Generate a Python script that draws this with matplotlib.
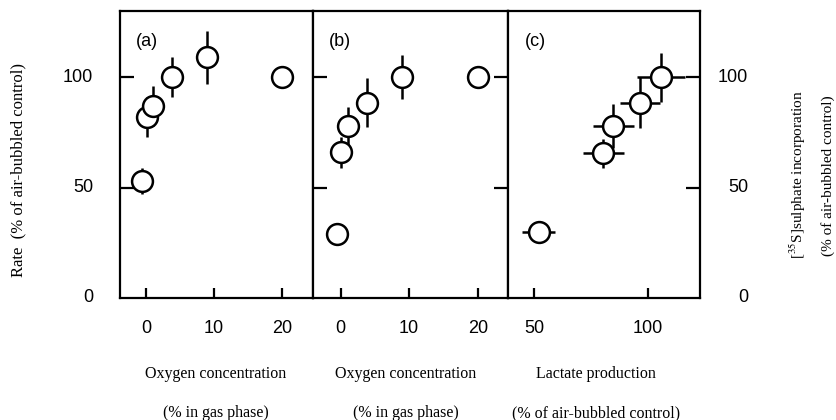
import matplotlib
matplotlib.use("Agg")
import matplotlib.pyplot as plt

# ---- data ----
a_x = [-0.5, 0.1, 1.1, 3.9, 9.0, 20.0]
a_y = [53, 82, 87, 100, 109, 100]
a_yerr = [6, 9, 9, 9, 12, 0]

b_x = [-0.5, 0.0, 1.1, 3.9, 8.9, 20.0]
b_y = [29, 66, 78, 88.5, 100, 100]
b_yerr = [0, 7, 8.5, 11, 10, 0]

c_x = [52, 80.4, 84.8, 96.5, 105.7]
c_y = [30, 65.5, 78, 88.5, 100]
c_xerr = [7.3, 9, 8.9, 8.6, 10.7]
c_yerr = [0, 6.5, 10, 11.5, 11]

oxy_ticks = [0, 10, 20]
lact_ticks = [50, 100]
y_ticks = [0, 50, 100]

plt.rcParams['mathtext.fontset'] = 'stix'
sans = 'Liberation Sans'
serif = 'Liberation Serif'

fig = plt.figure(figsize=(8.37, 4.2), dpi=100)
bottom, height = 0.2905, 0.6833
ax1 = fig.add_axes([0.1434, bottom, 0.2306, height])
ax2 = fig.add_axes([0.3740, bottom, 0.2330, height])
ax3 = fig.add_axes([0.6070, bottom, 0.2294, height])


def draw_points(ax, x, y, xerr=None, yerr=None):
    ax.errorbar(x, y, xerr=xerr, yerr=yerr, fmt='none', ecolor='black',
                elinewidth=1.8, capsize=0, zorder=2)
    ax.plot(x, y, 'o', ms=15, mfc='white', mec='black', mew=1.8,
            ls='none', zorder=3)


draw_points(ax1, a_x, a_y, yerr=a_yerr)
draw_points(ax2, b_x, b_y, yerr=b_yerr)
draw_points(ax3, c_x, c_y, xerr=c_xerr, yerr=c_yerr)

ax1.set_xlim(-3.8, 24.6)
ax2.set_xlim(-4.0, 24.4)
ax3.set_xlim(38.6, 122.8)

ax1.set_xticks(oxy_ticks)
ax2.set_xticks(oxy_ticks)
ax3.set_xticks(lact_ticks)

for ax, lab in [(ax1, '(a)'), (ax2, '(b)'), (ax3, '(c)')]:
    ax.set_ylim(0, 130)
    for s in ax.spines.values():
        s.set_linewidth(1.6)
    ax.tick_params(axis='x', direction='in', length=7, width=1.6,
                   pad=16, labelsize=13)
    for t in ax.get_xticklabels():
        t.set_family(sans)
    ax.text(0.14, 0.895, lab, transform=ax.transAxes, fontsize=13,
            family=sans, ha='center', va='center')

# y ticks: (a) left, (b) both sides, (c) right plus a short one at 100 on the left
ax1.set_yticks([50, 100])
ax1.tick_params(axis='y', direction='in', length=10, width=1.6,
                left=True, right=False, labelleft=False)
ax2.set_yticks([50, 100])
ax2.tick_params(axis='y', direction='in', length=10, width=1.6,
                left=True, right=True, labelleft=False)
ax3.set_yticks([50, 100])
ax3.set_yticks([100], minor=True)
ax3.tick_params(axis='y', which='major', direction='in', length=10,
                width=1.6, left=False, right=True, labelleft=False)
ax3.tick_params(axis='y', which='minor', direction='in', length=10,
                width=1.6, left=True, right=False)

# y tick labels as text so that both sides are right aligned
for v in y_ticks:
    ax1.text(-0.14, v, str(v), transform=ax1.get_yaxis_transform(),
             ha='right', va='center', fontsize=13, family=sans)
    ax3.text(1.25, v, str(v), transform=ax3.get_yaxis_transform(),
             ha='right', va='center', fontsize=13, family=sans)

# axis titles
fs = 11.5
for xc, l1, l2 in [(216, 'Oxygen concentration', '(% in gas phase)'),
                   (406, 'Oxygen concentration', '(% in gas phase)'),
                   (596, 'Lactate production', '(% of air-bubbled control)')]:
    fig.text(xc / 837, 1 - 374 / 420, l1, ha='center', va='center',
             fontsize=fs, family=serif)
    fig.text(xc / 837, 1 - 413 / 420, l2, ha='center', va='center',
             fontsize=fs, family=serif)

fig.text(18 / 837, 1 - 170 / 420, 'Rate  (% of air-bubbled control)',
         rotation=90, ha='center', va='center', fontsize=12, family=serif)
fig.text(798 / 837, 1 - 175 / 420, r'[$^{35}$S]sulphate incorporation',
         rotation=90, ha='center', va='center', fontsize=11, family=serif)
fig.text(828 / 837, 1 - 176 / 420, '(% of air-bubbled control)',
         rotation=90, ha='center', va='center', fontsize=11, family=serif)

fig.savefig('out.png', dpi=100, facecolor='white')
